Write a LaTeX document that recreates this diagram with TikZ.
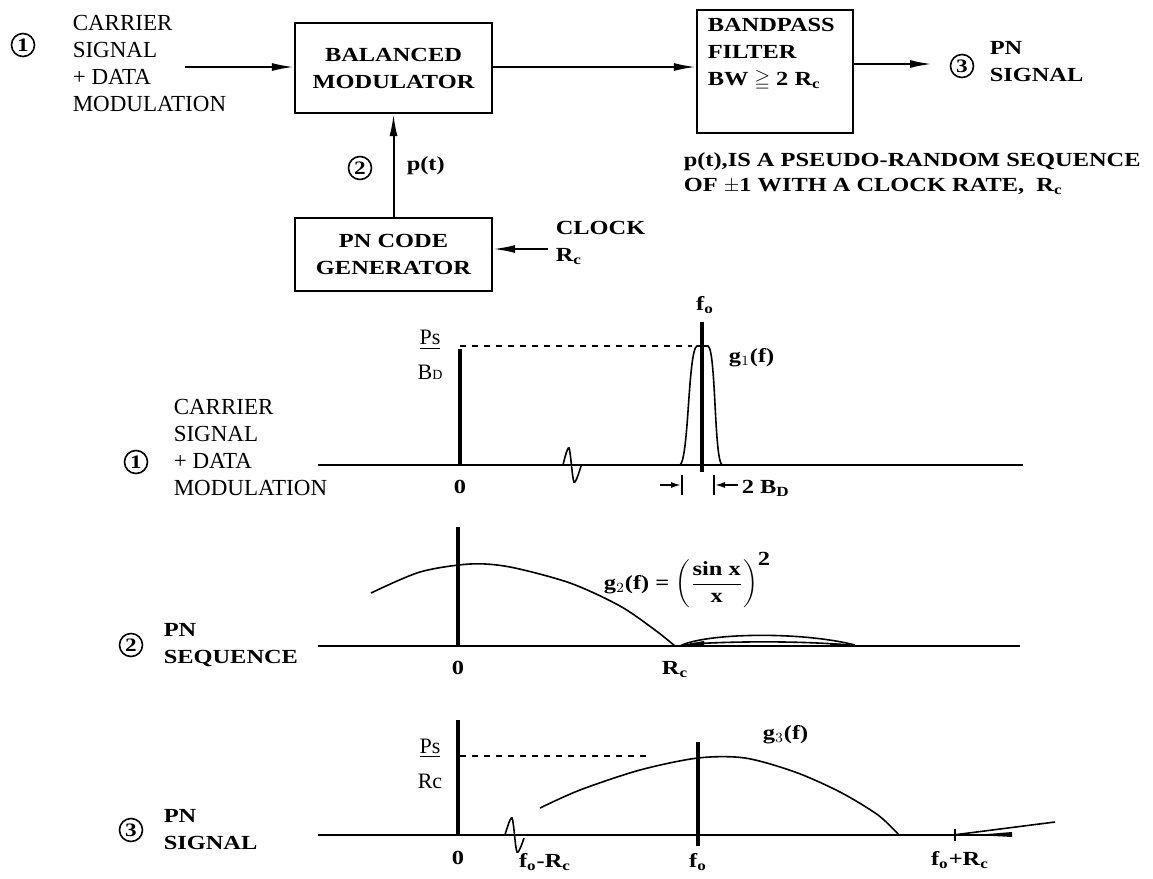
\documentclass[tikz,border=0pt]{standalone}
\usepackage{amsmath, amssymb}
\usepackage{fontspec}
\setmainfont{Liberation Serif}
\newfontfamily\slabfont{Liberation Serif}[FakeStretch=1.22]
\usetikzlibrary{arrows.meta, positioning}
\newcommand{\txtreg}{\fontsize{11.5}{13.5}\selectfont}
\newcommand{\txtbold}{\fontsize{10}{13.5}\selectfont\slabfont\bfseries}

\begin{document}
\begin{tikzpicture}[x=0.5pt, y=-0.5pt, line width=0.8pt,
      blk/.style={draw, line width=1.1pt, font=\txtbold, align=center, inner sep=0pt},
      num/.style={draw, circle, line width=0.8pt, minimum size=11.5pt, inner sep=0pt,
        font=\fontsize{9.5}{9.5}\selectfont\slabfont\bfseries},
      txt/.style={anchor=west, align=left, inner sep=0pt, font=\txtreg},
      btxt/.style={anchor=west, align=left, inner sep=0pt, font=\txtbold},
      tick/.style={inner sep=0pt, font=\txtbold},
      arr/.style={-{Latex[length=11pt, width=4pt]}, line width=1pt},
      bwarr/.style={-{Latex[length=5pt, width=3pt]}},
      ax/.style={line width=1.2pt},
      zax/.style={line width=2pt}]
    \useasboundingbox (0,0) rectangle (1153,879);

    % block diagram
    \node[num] (n1) at (23,45) {1};
    \node[txt] (carr) at (72,63) {CARRIER\\SIGNAL\\+ DATA\\MODULATION};
    \node[blk, minimum width=98.5pt, minimum height=45pt] (bm) at (393.5,68) {BALANCED\\MODULATOR};
    \node[blk, minimum width=78pt, minimum height=61.5pt] (bp) at (775,71.5) {};
    \node[btxt] (bptxt) at (707,54) {BANDPASS\\FILTER\\BW $\geqq$ 2 R$_{\text{c}}$};
    \node[blk, minimum width=98.5pt, minimum height=36.5pt] (pn) at (393.5,254.5) {PN CODE\\GENERATOR};
    \node[num] (n3) at (962,66) {3};
    \node[btxt] (outsig) at (989,62) {PN\\SIGNAL};
    \coordinate (cin) at (185,67);
    \coordinate (cout) at (932,64);
    \coordinate (clkin) at (548,249);
    \draw[arr] (cin) -- (cin -| bm.west);
    \draw[arr] (bm.east |- cin) -- (bp.west |- cin);
    \draw[arr] (bp.east |- cout) -- (cout);
    \draw[arr] (pn.north) -- (bm.south);
    \draw[arr] (clkin) -- (clkin -| pn.east);
    \node[num] (n2) at (360,168) {2};
    \node[btxt] (pt) at (406,166) {p(t)};
    \node[btxt] (clk) at (555,243) {CLOCK\\R$_{\text{c}}$};
    \node[btxt, font=\fontsize{10}{12.5}\selectfont\slabfont\bfseries] (note) at (683,174)
      {p(t),IS A PSEUDO-RANDOM SEQUENCE\\OF $\pm$1 WITH A CLOCK RATE,\ \ R$_{\text{c}}$};

    % spectrum 1
    \node[num] (s1n) at (136,462) {1};
    \node[txt] (s1t) at (173,447) {CARRIER\\SIGNAL\\+ DATA\\MODULATION};
    \draw[ax] (318,465) -- (1023,465);
    \draw[zax] (460,349) -- (460,465);
    \node[align=center, inner sep=0pt, font=\fontsize{11}{17.5}\selectfont] (lv1) at (430,355)
      {\underline{Ps}\\B{\scriptsize D}};
    \draw[dashed] (460,346) -- (692,346);
    \draw[zax] (702,322) -- (702,472);
    \node[tick] (fo1) at (705,305) {f$_{\text{o}}$};
    \draw (680,465) .. controls (689,458) and (688,350) .. (697,346) -- (708,346)
      .. controls (716,350) and (714,458) .. (722,465);
    \node[btxt] (g1) at (728,358) {g$_1$(f)};
    \draw plot[smooth] coordinates {(563,465) (569,448) (574,482) (581,466)};
    \draw[bwarr] (660,485) -- (681,485);
    \draw (682,475) -- (682,495);
    \draw (714,475) -- (714,495);
    \draw[bwarr] (738,485) -- (715,485);
    \node[btxt] (bw) at (741,488) {2 B$_{\text{D}}$};
    \node[tick] (z1) at (460,487) {0};

    % spectrum 2
    \node[num] (s2n) at (131,645) {2};
    \node[btxt] (s2t) at (163,645) {PN\\SEQUENCE};
    \draw[ax] (318,646) -- (1020,646);
    \draw[zax] (458,527) -- (458,646);
    \draw plot[smooth] coordinates {(371,593) (420,572) (470,564) (510,567)
      (570,583) (620,606) (655,630) (675,646)};
    \draw (680,646) .. controls (705,633) and (800,631) .. (855,645);
    \draw (690,644) .. controls (740,641) and (800,641) .. (850,645);
    \fill (676,646) -- (704,641) -- (704,645) -- cycle;
    \fill (830,643) -- (852,645) -- (830,646) -- cycle;
    \node[btxt] (g2) at (603,580)
      {g$_2$(f) = $\left(\dfrac{\text{sin x}}{\text{x}}\right)^{\mbox{2}}$};
    \node[tick] (z2) at (458,668) {0};
    \node[tick] (rc2) at (675,670) {R$_{\text{c}}$};

    % spectrum 3
    \node[num] (s3n) at (131,830) {3};
    \node[btxt] (s3t) at (163,830) {PN\\SIGNAL};
    \draw[ax] (318,835) -- (1012,835);
    \draw[zax] (458,720) -- (458,835);
    \node[align=center, inner sep=0pt, font=\fontsize{11}{17.5}\selectfont] (lv3) at (430,764)
      {\underline{Ps}\\Rc};
    \draw[dashed] (460,756) -- (649,756);
    \draw[zax] (698,742) -- (698,846);
    \draw plot[smooth] coordinates {(540,808) (580,790) (640,770) (698,758) (745,758)
      (795,772) (840,792) (878,815) (899,835)};
    \node[btxt] (g3) at (762,735) {g$_3$(f)};
    \draw plot[smooth] coordinates {(505,835) (512,818) (517,852) (524,838)};
    \draw (955,829) -- (955,841);
    \draw (953,835) -- (1055,822);
    \fill (975,835) -- (1012,832) -- (1012,837) -- cycle;
    \node[tick] (z3) at (458,858) {0};
    \node[tick] (fm) at (545,862) {f$_{\text{o}}$-R$_{\text{c}}$};
    \node[tick] (fo3) at (698,862) {f$_{\text{o}}$};
    \node[tick] (fp) at (960,860) {f$_{\text{o}}$+R$_{\text{c}}$};
  \end{tikzpicture}
\end{document}
